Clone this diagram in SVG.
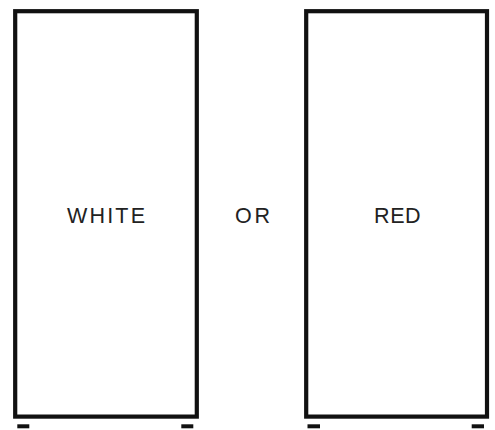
<svg xmlns="http://www.w3.org/2000/svg" width="495" height="430" viewBox="0 0 495 430">
<style>
.box{fill:#fff;stroke:#111;stroke-width:4.2}
.foot{fill:#111}
.lbl{font-family:"Liberation Sans",Arial,sans-serif;font-size:21.5px;fill:#222;text-anchor:middle}
</style>
<rect width="495" height="430" fill="#fff"/>
<g id="white">
<rect class="box" x="15.2" y="11.2" width="181.6" height="405.4"/>
<rect class="foot" x="17.3" y="424.3" width="12" height="4"/>
<rect class="foot" x="181.3" y="424.3" width="12" height="4"/>
<text class="lbl" x="106" y="223.3" textLength="78" lengthAdjust="spacing">WHITE</text>
</g>
<g id="or">
<text class="lbl" x="252.5" y="223.3" textLength="35" lengthAdjust="spacing">OR</text>
</g>
<g id="red">
<rect class="box" x="306.2" y="11.2" width="180.8" height="405.4"/>
<rect class="foot" x="307.5" y="424.3" width="12.5" height="4"/>
<rect class="foot" x="471.7" y="424.3" width="12.3" height="4"/>
<text class="lbl" x="397.3" y="223.3" textLength="46.5" lengthAdjust="spacing">RED</text>
</g>
<g id="connectors"/>
</svg>
